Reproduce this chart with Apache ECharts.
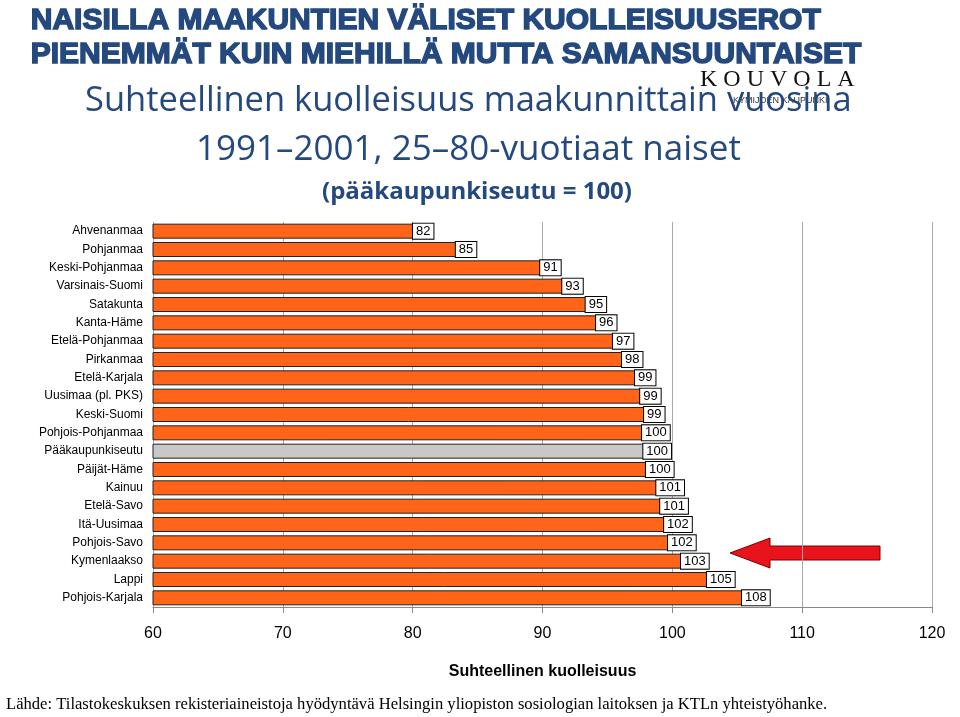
<!DOCTYPE html>
<html><head><meta charset="utf-8">
<script src="https://cdn.jsdelivr.net/npm/echarts@6/dist/echarts.min.js"></script>
<style>html,body{margin:0;background:#fff}#c{width:960px;height:717px}</style>
</head><body><div id="c"></div>
<script>
const regions = ['Ahvenanmaa','Pohjanmaa','Keski-Pohjanmaa','Varsinais-Suomi','Satakunta','Kanta-Häme','Etelä-Pohjanmaa','Pirkanmaa','Etelä-Karjala','Uusimaa (pl. PKS)','Keski-Suomi','Pohjois-Pohjanmaa','Pääkaupunkiseutu','Päijät-Häme','Kainuu','Etelä-Savo','Itä-Uusimaa','Pohjois-Savo','Kymenlaakso','Lappi','Pohjois-Karjala'];
const mortality = [81.6,84.9,91.4,93.1,94.9,95.7,97.0,97.7,98.7,99.1,99.4,99.8,99.9,100.1,100.9,101.2,101.5,101.8,102.8,104.8,107.5];
const refRegion = 'Pääkaupunkiseutu';

const blue = '#24497F';
const chart = echarts.init(document.getElementById('c'));
chart.setOption({
  animation: false,
  grid: {left: 153, right: 28, top: 222, bottom: 110},
  xAxis: {
    type: 'value', min: 60, max: 120, interval: 10,
    name: 'Suhteellinen kuolleisuus', nameLocation: 'middle', nameGap: 57,
    nameTextStyle: {fontFamily: 'Liberation Sans', fontWeight: 'bold', fontSize: 16, color: '#000'},
    axisLine: {show: true, lineStyle: {color: '#888'}},
    axisTick: {show: true, length: 6, lineStyle: {color: '#888'}},
    axisLabel: {fontFamily: 'Liberation Sans', fontSize: 16, color: '#000', margin: 19},
    splitLine: {lineStyle: {color: '#aaa'}}
  },
  yAxis: {
    type: 'category', data: regions, inverse: true,
    axisLine: {show: false}, axisTick: {show: false},
    axisLabel: {fontFamily: 'Liberation Sans', fontSize: 12, color: '#000', margin: 10}
  },
  series: [{
    type: 'bar', barWidth: 15,
    data: mortality.map((v, i) => ({
      value: v,
      itemStyle: {color: regions[i] === refRegion ? '#C8C8C8' : '#FF6418', borderColor: '#222', borderWidth: 1}
    })),
    label: {
      show: true, position: 'insideRight', distance: 0,
      formatter: p => Math.round(p.value),
      backgroundColor: '#fff', borderColor: '#000', borderWidth: 1,
      padding: [1, 3], fontFamily: 'Liberation Sans', fontSize: 13, color: '#000'
    }
  }],
  graphic: [
    {type: 'text', left: 700, top: 68, style: {text: 'K O U V O L A', font: '24px "Liberation Serif"', fill: '#111'}},
    {type: 'text', left: 733, top: 96, style: {text: 'KYMIJOEN KAUPUNKI', font: '9px "Liberation Sans"', fill: '#333'}},
    {type: 'text', left: 30, top: 4, style: {text: 'NAISILLA MAAKUNTIEN VÄLISET KUOLLEISUUSEROT\nPIENEMMÄT KUIN MIEHILLÄ MUTTA SAMANSUUNTAISET', font: 'bold 30px "Liberation Sans"', fill: blue, stroke: blue, lineWidth: 1.5, lineHeight: 34}},
    {type: 'text', left: 85, top: 84, style: {text: 'Suhteellinen kuolleisuus maakunnittain vuosina', font: '34.5px "Open Sans"', fill: blue}},
    {type: 'text', left: 196, top: 133, style: {text: '1991–2001, 25–80-vuotiaat naiset', font: '35px "Open Sans"', fill: blue}},
    {type: 'text', left: 322, top: 180, style: {text: '(pääkaupunkiseutu = 100)', font: 'bold 24px "Open Sans"', fill: blue}},
    {type: 'polygon', shape: {points: [[730,553],[770,538],[770,546],[880,546],[880,560],[770,560],[770,568]]}, style: {fill: '#E8131B', stroke: '#7a0000', lineWidth: 1}},
    {type: 'text', left: 6, top: 696, style: {text: 'Lähde: Tilastokeskuksen rekisteriaineistoja hyödyntävä Helsingin yliopiston sosiologian laitoksen ja KTLn yhteistyöhanke.', font: '16.6px "Liberation Serif"', fill: '#000'}}
  ]
});
</script></body></html>
